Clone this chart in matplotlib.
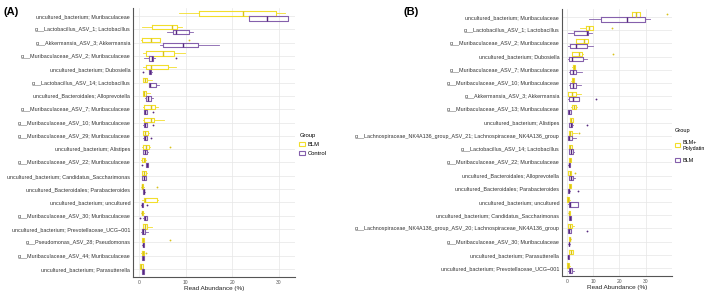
import numpy as np
import matplotlib
matplotlib.use("Agg")
import matplotlib.pyplot as plt
from matplotlib.patches import Patch

plt.rcParams['font.family'] = ['Liberation Sans', 'DejaVu Sans']

YEL = '#F2DE2C'
YEL_MED = '#D8C21C'
PUR = '#8560AC'
PUR_MED = '#56287F'

# ---- panel A data (rows top to bottom) ----
a_labels = [
    "uncultured_bacterium; Muribaculaceae",
    "g__Lactobacillus_ASV_1; Lactobacillus",
    "g__Akkermansia_ASV_3; Akkermansia",
    "g__Muribaculaceae_ASV_2; Muribaculaceae",
    "uncultured_bacterium; Dubosiella",
    "g__Lactobacillus_ASV_14; Lactobacillus",
    "uncultured_Bacteroidales; Alloprevotella",
    "g__Muribaculaceae_ASV_7; Muribaculaceae",
    "g__Muribaculaceae_ASV_10; Muribaculaceae",
    "g__Muribaculaceae_ASV_29; Muribaculaceae",
    "uncultured_bacterium; Alistipes",
    "g__Muribaculaceae_ASV_22; Muribaculaceae",
    "uncultured_bacterium; Candidatus_Saccharimonas",
    "uncultured_Bacteroidales; Parabacteroides",
    "uncultured_bacterium; uncultured",
    "g__Muribaculaceae_ASV_30; Muribaculaceae",
    "uncultured_bacterium; Prevotellaceae_UCG\u2212001",
    "g__Pseudomonas_ASV_28; Pseudomonas",
    "g__Muribaculaceae_ASV_44; Muribaculaceae",
    "uncultured_bacterium; Parasutterella",
]
# (whisker low, q1, median, q3, whisker high)
a_blm = [
    (8.6, 12.9, 22.4, 29.5, 31.4), (0.6, 2.8, 7.1, 8.2, 9.2), (0.4, 0.6, 2.5, 4.4, 4.6),
    (0.9, 1.5, 5.2, 7.6, 9.9), (0.9, 1.5, 2.6, 6.3, 8.0), (0.8, 0.9, 1.2, 1.7, 2.8),
    (0.8, 0.9, 1.1, 1.5, 2.4), (0.9, 1.1, 2.5, 3.4, 4.1), (0.9, 1.1, 2.5, 3.2, 5.4),
    (0.8, 0.9, 1.3, 2.0, 2.2), (0.6, 0.9, 1.5, 2.2, 2.4), (0.5, 0.6, 1.0, 1.3, 1.5),
    (0.6, 0.7, 1.1, 1.5, 1.7), (0.5, 0.6, 0.7, 0.9, 1.0), (0.7, 1.1, 1.3, 3.9, 4.0),
    (0.5, 0.6, 0.7, 0.9, 1.0), (0.8, 0.9, 1.2, 1.7, 2.7), (0.6, 0.7, 0.8, 1.0, 1.1),
    (0.5, 0.6, 0.8, 1.0, 1.1), (0.2, 0.3, 0.5, 0.8, 0.9),
]
a_blm_out = [[], [], [10.8], [], [], [], [], [], [], [],
             [6.7], [], [], [3.8], [], [], [], [6.7], [1.5], []]
a_ctrl = [
    (23.7, 23.7, 27.5, 32.0, 32.0), (6.0, 7.3, 7.9, 10.8, 11.6), (4.4, 5.2, 9.5, 12.7, 17.2),
    (1.1, 2.2, 2.8, 3.1, 3.4), (2.1, 2.2, 2.4, 2.6, 2.8), (2.1, 2.2, 2.4, 3.6, 4.3),
    (1.2, 1.5, 2.0, 2.6, 2.9), (1.0, 1.1, 1.3, 1.6, 1.7), (0.9, 1.0, 1.3, 1.6, 1.7),
    (0.9, 1.0, 1.2, 1.6, 1.7), (0.8, 0.9, 1.2, 1.8, 1.9), (1.4, 1.5, 1.7, 1.9, 2.0),
    (0.6, 0.7, 1.0, 1.4, 1.5), (0.8, 0.9, 1.0, 1.1, 1.2), (0.5, 0.6, 0.7, 0.8, 0.9),
    (0.9, 1.0, 1.3, 1.6, 1.7), (0.5, 0.6, 0.8, 1.3, 2.0), (0.7, 0.8, 0.9, 1.0, 1.1),
    (0.6, 0.7, 0.8, 1.0, 1.1), (0.6, 0.7, 0.8, 1.0, 1.1),
]
a_ctrl_out = [[], [], [], [7.9], [0.8], [], [], [3.1], [2.9], [2.5],
              [], [0.7], [], [], [1.7], [0.2], [], [], [], []]

# ---- panel B data ----
b_labels = [
    "uncultured_bacterium; Muribaculaceae",
    "g__Lactobacillus_ASV_1; Lactobacillus",
    "g__Muribaculaceae_ASV_2; Muribaculaceae",
    "uncultured_bacterium; Dubosiella",
    "g__Muribaculaceae_ASV_7; Muribaculaceae",
    "g__Muribaculaceae_ASV_10; Muribaculaceae",
    "g__Akkermansia_ASV_3; Akkermansia",
    "g__Muribaculaceae_ASV_13; Muribaculaceae",
    "uncultured_bacterium; Alistipes",
    "g__Lachnospiraceae_NK4A136_group_ASV_21; Lachnospiraceae_NK4A136_group",
    "g__Lactobacillus_ASV_14; Lactobacillus",
    "g__Muribaculaceae_ASV_22; Muribaculaceae",
    "uncultured_Bacteroidales; Alloprevotella",
    "uncultured_Bacteroidales; Parabacteroides",
    "uncultured_bacterium; uncultured",
    "uncultured_bacterium; Candidatus_Saccharimonas",
    "g__Lachnospiraceae_NK4A136_group_ASV_20; Lachnospiraceae_NK4A136_group",
    "g__Muribaculaceae_ASV_30; Muribaculaceae",
    "uncultured_bacterium; Parasutterella",
    "uncultured_bacterium; Prevotellaceae_UCG\u2212001",
]
b_poly = [
    (24.6, 24.6, 26.2, 28.0, 28.0), (4.9, 7.2, 8.4, 10.0, 10.0), (3.4, 3.4, 6.3, 8.0, 8.0),
    (1.8, 1.8, 4.6, 5.6, 6.0), (2.0, 2.2, 2.6, 3.1, 3.2), (1.7, 1.8, 2.1, 2.5, 2.6),
    (0.2, 0.3, 2.0, 3.6, 5.2), (1.6, 1.8, 2.8, 3.6, 3.7), (1.0, 1.1, 1.6, 2.2, 2.3),
    (0.7, 0.8, 1.3, 1.8, 3.8), (0.8, 0.9, 1.3, 1.8, 1.9), (0.8, 0.9, 1.2, 1.5, 1.6),
    (0.2, 0.3, 1.0, 1.4, 1.6), (0.7, 0.8, 1.2, 1.5, 1.6), (0.0, 0.1, 0.5, 0.9, 1.0),
    (0.5, 0.6, 0.8, 1.1, 1.2), (0.2, 0.3, 1.0, 1.8, 2.7), (0.7, 0.8, 1.0, 1.3, 1.4),
    (0.8, 0.9, 1.5, 2.2, 2.3), (0.0, 0.1, 0.5, 0.9, 1.0),
]
b_poly_out = [[38.0], [17.0], [], [17.6], [], [], [], [], [], [4.6],
              [], [], [3.2], [], [], [], [], [], [], []]
b_blm = [
    (8.4, 12.9, 22.7, 29.7, 31.8), (0.4, 2.8, 7.6, 8.1, 9.4), (0.4, 1.1, 3.4, 7.6, 9.8),
    (0.4, 0.8, 1.8, 6.2, 7.6), (0.6, 1.1, 2.4, 3.6, 5.8), (0.6, 1.1, 2.4, 3.4, 5.2),
    (0.5, 0.6, 2.2, 4.6, 4.7), (0.2, 0.3, 0.6, 1.5, 1.6), (0.8, 0.9, 1.4, 2.0, 2.1),
    (0.2, 0.3, 0.8, 1.8, 3.5), (0.8, 0.9, 1.4, 2.2, 2.8), (0.5, 0.6, 0.8, 1.1, 1.2),
    (0.7, 0.8, 1.4, 2.2, 3.2), (0.2, 0.3, 0.6, 0.9, 1.0), (0.3, 0.9, 1.1, 4.1, 4.2),
    (0.7, 0.8, 1.1, 1.5, 1.6), (0.2, 0.3, 0.6, 1.5, 1.6), (0.5, 0.6, 0.7, 0.9, 1.0),
    (0.2, 0.3, 0.5, 0.8, 0.9), (0.5, 0.6, 1.1, 2.0, 2.8),
]
b_blm_out = [[], [], [], [], [], [], [10.9], [], [7.6], [],
             [], [], [], [4.1], [], [], [7.8], [], [], []]


def draw_boxes(ax, stats, outs, pos, col, medcol):
    st = [dict(whislo=s[0], q1=s[1], med=s[2], q3=s[3], whishi=s[4], fliers=o)
          for s, o in zip(stats, outs)]
    ax.bxp(st, positions=pos, widths=0.32, orientation='horizontal', showcaps=False,
           boxprops=dict(color=col, lw=0.8),
           whiskerprops=dict(color=col, lw=0.6),
           medianprops=dict(color=medcol, lw=1.0),
           flierprops=dict(marker='o', markersize=1.3, markerfacecolor=medcol,
                           markeredgecolor=medcol, markeredgewidth=0))


def panel(ax, labels, s1, o1, s2, o2, xmin, xmax):
    n = len(labels)
    pos = np.arange(n)
    draw_boxes(ax, s1, o1, pos - 0.1875, YEL, YEL_MED)
    draw_boxes(ax, s2, o2, pos + 0.1875, PUR, PUR_MED)
    ax.set_yticks(pos)
    ax.set_yticklabels(labels, fontsize=3.9, color='#333333')
    ax.set_ylim(n - 0.4, -0.6)
    ax.set_xlim(xmin, xmax)
    ax.set_xticks([0, 10, 20, 30])
    ax.set_xticklabels(['0', '10', '20', '30'], fontsize=3.6, color='#555555')
    ax.tick_params(length=0, pad=2)
    ax.grid(True, color='#E6E6E6', lw=0.5)
    ax.set_axisbelow(True)
    for s in ['top', 'right']:
        ax.spines[s].set_visible(False)
    for s in ['left', 'bottom']:
        ax.spines[s].set_color('#555555')
        ax.spines[s].set_linewidth(0.8)
    ax.set_xlabel('Read Abundance (%)', fontsize=4.6, color='#222222', labelpad=1)


fig = plt.figure(figsize=(7.09, 2.92), dpi=100)
axA = fig.add_axes([133 / 709, 15 / 292, 162 / 709, 269 / 292])
axB = fig.add_axes([562 / 709, 16 / 292, 110 / 709, 267 / 292])

panel(axA, a_labels, a_blm, a_blm_out, a_ctrl, a_ctrl_out, -1.3, 33.5)
panel(axB, b_labels, b_poly, b_poly_out, b_blm, b_blm_out, -1.9, 40)

legA = fig.legend([Patch(facecolor='white', edgecolor=YEL, lw=0.8),
                   Patch(facecolor='white', edgecolor=PUR, lw=0.8)],
                  ['BLM', 'Control'], title='Group', loc='upper left',
                  bbox_to_anchor=(294 / 709, 1 - 128 / 292), frameon=False,
                  fontsize=4.2, title_fontsize=4.2, handlelength=1.0, handleheight=0.8,
                  handletextpad=0.5, labelspacing=0.6, alignment='left')
legB = fig.legend([Patch(facecolor='white', edgecolor=YEL, lw=0.8),
                   Patch(facecolor='white', edgecolor=PUR, lw=0.8)],
                  ['BLM+\nPolydatin', 'BLM'], title='Group', loc='upper left',
                  bbox_to_anchor=(671 / 709, 1 - 124 / 292), frameon=False,
                  fontsize=3.9, title_fontsize=4.1, handlelength=1.0, handleheight=0.8,
                  handletextpad=0.4, labelspacing=1.3, alignment='left',
                  borderaxespad=0.3)

fig.text(4 / 709, 1 - 12 / 292, '(A)', fontsize=8, fontweight='bold', va='center')
fig.text(403 / 709, 1 - 12 / 292, '(B)', fontsize=8, fontweight='bold', va='center')

fig.savefig('out.png', dpi=100)
